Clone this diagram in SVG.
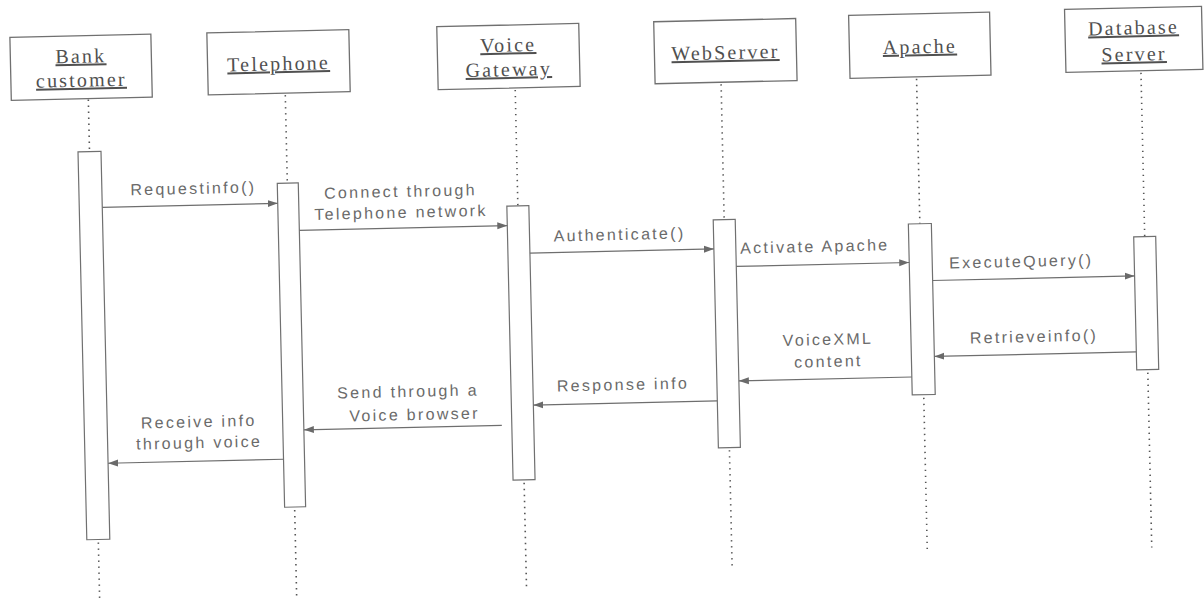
<svg xmlns="http://www.w3.org/2000/svg" width="1204" height="600" viewBox="0 0 1204 600">
<defs>
<marker id="ah" viewBox="0 0 10 8" refX="10" refY="4" markerWidth="10" markerHeight="8" markerUnits="userSpaceOnUse" orient="auto">
<path d="M0,0.5 L10,4 L0,7.5 z" fill="#6a6a6a"/>
</marker>
<style>
.box{fill:#fff;stroke:#707070;stroke-width:1.3}
.act{fill:#fff;stroke:#707070;stroke-width:1.2}
.life{stroke:#555;stroke-width:1.6;stroke-dasharray:1.4 4.6;fill:none}
.hd{font-family:"Liberation Serif","Times New Roman",serif;font-size:20px;letter-spacing:2.2px;fill:#505050;text-anchor:middle;text-decoration:underline}
.lb{font-family:"Liberation Sans",Arial,sans-serif;font-size:16px;letter-spacing:2.3px;fill:#6a6a6a;text-anchor:middle}
.msg{stroke:#6e6e6e;stroke-width:1.2;fill:none;marker-end:url(#ah)}
</style>
</defs>
<rect x="0" y="0" width="1204" height="600" fill="#fff"/>
<g transform="rotate(-1.3 602 300)">
<g id="bank-customer">
<rect class="box" x="16" y="24" width="141" height="63"/>
<text class="hd" x="86.5" y="51">Bank</text>
<text class="hd" x="86.5" y="75">customer</text>
<line class="life" x1="93" y1="88" x2="93" y2="140"/>
<rect class="act" x="81.5" y="140" width="23" height="388"/>
<line class="life" x1="93" y1="531" x2="93" y2="625"/>
</g>
<g id="telephone">
<rect class="box" x="213" y="24" width="142" height="62"/>
<text class="hd" x="284" y="63">Telephone</text>
<line class="life" x1="290" y1="88" x2="290" y2="176"/>
<rect class="act" x="280" y="176" width="21" height="324"/>
<line class="life" x1="290" y1="503" x2="290" y2="625"/>
</g>
<g id="voice-gateway">
<rect class="box" x="443" y="23" width="142" height="63"/>
<text class="hd" x="514" y="49.5">Voice</text>
<text class="hd" x="514" y="74">Gateway</text>
<line class="life" x1="520" y1="88" x2="520" y2="204"/>
<rect class="act" x="509" y="204" width="22" height="274"/>
<line class="life" x1="520" y1="481" x2="520" y2="588"/>
</g>
<g id="webserver">
<rect class="box" x="660" y="23" width="142" height="62"/>
<text class="hd" x="731" y="62">WebServer</text>
<line class="life" x1="726" y1="87" x2="726" y2="222.5"/>
<rect class="act" x="715" y="222.5" width="22" height="228"/>
<line class="life" x1="726" y1="453" x2="726" y2="571"/>
</g>
<g id="apache">
<rect class="box" x="855" y="21" width="141" height="63"/>
<text class="hd" x="925.5" y="60.5">Apache</text>
<line class="life" x1="921.5" y1="86" x2="921.5" y2="231"/>
<rect class="act" x="910" y="231" width="23" height="171"/>
<line class="life" x1="921.5" y1="405" x2="921.5" y2="560"/>
</g>
<g id="database-server">
<rect class="box" x="1071" y="20" width="137" height="63"/>
<text class="hd" x="1139.5" y="46.5">Database</text>
<text class="hd" x="1139.5" y="73">Server</text>
<line class="life" x1="1146" y1="85" x2="1146" y2="249"/>
<rect class="act" x="1135" y="249" width="22" height="133"/>
<line class="life" x1="1146" y1="385" x2="1146" y2="560"/>
</g>
<g id="connectors">
<line class="msg" x1="104.5" y1="196" x2="280" y2="196"/>
<line class="msg" x1="301" y1="223.5" x2="509" y2="223.5"/>
<line class="msg" x1="531" y1="251.5" x2="715" y2="251.5"/>
<line class="msg" x1="737" y1="269.5" x2="910" y2="269.5"/>
<line class="msg" x1="933" y1="288" x2="1135" y2="288"/>
<line class="msg" x1="1135" y1="364" x2="933" y2="364"/>
<line class="msg" x1="910" y1="384" x2="737" y2="384"/>
<line class="msg" x1="715" y1="403.5" x2="531" y2="403.5"/>
<line class="msg" x1="499" y1="423" x2="301" y2="423"/>
<line class="msg" x1="280" y1="452" x2="104.5" y2="452"/>
<text class="lb" x="196" y="184.7">Requestinfo()</text>
<text class="lb" x="403" y="192.4">Connect through</text>
<text class="lb" x="403" y="213.4">Telephone network</text>
<text class="lb" x="621" y="240.4">Authenticate()</text>
<text class="lb" x="816" y="256.8">Activate Apache</text>
<text class="lb" x="1022" y="276.5">ExecuteQuery()</text>
<text class="lb" x="1033" y="351.8">Retrieveinfo()</text>
<text class="lb" x="827" y="350">VoiceXML</text>
<text class="lb" x="827" y="372">content</text>
<text class="lb" x="621" y="390.5">Response info</text>
<text class="lb" x="406" y="392.6">Send through a</text>
<text class="lb" x="412" y="415.7">Voice browser</text>
<text class="lb" x="196" y="418">Receive info</text>
<text class="lb" x="196" y="439">through voice</text>
</g>
</g>
</svg>
